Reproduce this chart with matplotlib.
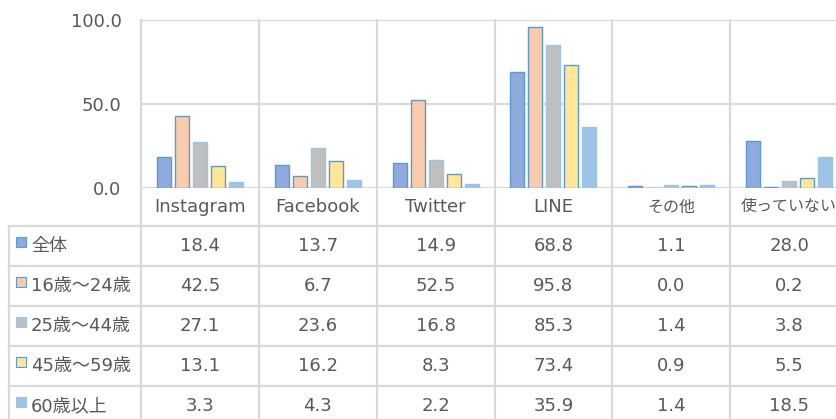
import matplotlib
matplotlib.use("Agg")
import matplotlib.pyplot as plt
from matplotlib.patches import Rectangle
from matplotlib.lines import Line2D
from matplotlib.transforms import blended_transform_factory

plt.rcParams['font.family'] = ['DejaVu Sans', 'Noto Sans CJK JP']

categories = ['Instagram', 'Facebook', 'Twitter', 'LINE', 'その他', '使っていない']
groups = ['全体', '16歳～24歳', '25歳～44歳', '45歳～59歳', '60歳以上']
all_ages = [18.4, 13.7, 14.9, 68.8, 1.1, 28.0]
age_16_24 = [42.5, 6.7, 52.5, 95.8, 0.0, 0.2]
age_25_44 = [27.1, 23.6, 16.8, 85.3, 1.4, 3.8]
age_45_59 = [13.1, 16.2, 8.3, 73.4, 0.9, 5.5]
age_60_up = [3.3, 4.3, 2.2, 35.9, 1.4, 18.5]
series = [all_ages, age_16_24, age_25_44, age_45_59, age_60_up]
yticks = [0, 50, 100]

fills = ['#8FAADC', '#F8CBAD', '#BFBFBF', '#FFE699', '#9DC3E6']
edges = ['#5B9BD5', '#5B9BD5', '#9DC3E6', '#5B9BD5', '#9DC3E6']
grid_c = '#D9D9D9'
text_c = '#595959'

W, H = 837, 419
fig = plt.figure(figsize=(W / 100, H / 100), dpi=100)

# overlay in pixel coordinates for the data table
ov = fig.add_axes([0, 0, 1, 1])
ov.set_xlim(0, W)
ov.set_ylim(H, 0)
ov.axis('off')

# chart area (last category runs past the right edge, as in the reference)
left, right, top, bottom = 141, 848, 20, 187.7
ax = fig.add_axes([left / W, 1 - bottom / H, (right - left) / W, (bottom - top) / H])
ax.set_xlim(-0.5, len(categories) - 0.5)
ax.set_ylim(0, 100)
for s in ax.spines.values():
    s.set_visible(False)
ax.set_xticks([])
ax.set_yticks(yticks)
ax.set_yticklabels([f'{v:.1f}' for v in yticks], fontsize=13, color=text_c)
ax.tick_params(axis='y', length=0, pad=14)
ax.yaxis.grid(True, color=grid_c, linewidth=1.6)
ax.set_axisbelow(True)
ax.patch.set_alpha(0)

step = 18 / 117.8
bw = 14 / 117.8
for k, vals in enumerate(series):
    xs = [i + (k - 2) * step for i in range(len(categories))]
    ax.bar(xs, vals, width=bw, color=fills[k], edgecolor=edges[k], linewidth=1.0, zorder=3)

bt = blended_transform_factory(ax.transData, ov.transData)

# vertical category boundaries running through the table
for i in range(len(categories) + 1):
    ov.add_line(Line2D([i - 0.5, i - 0.5], [top, H], transform=bt, color=grid_c,
                       linewidth=1.6, clip_on=False))

# table rows
row_edges = [226, 266, 306, 346, 386, 426]
for y in row_edges[:-1]:
    ov.plot([9, W], [y, y], color=grid_c, linewidth=1.6)
ov.plot([9, 9], [226, H], color=grid_c, linewidth=1.6)

# header (category names); kana labels are narrower in the original font
for i, c in enumerate(categories):
    fs = 13 if c.isascii() else 11.5
    ov.text(i, (bottom + 226) / 2, c, transform=bt, ha='center', va='center',
            fontsize=fs, color=text_c)

for k, (g, vals) in enumerate(zip(groups, series)):
    y0, y1 = row_edges[k], row_edges[k + 1]
    yc = (y0 + y1) / 2
    ov.add_patch(Rectangle((16.5, yc - 9), 10, 10, facecolor=fills[k],
                           edgecolor=edges[k], linewidth=0.8))
    ov.text(31, yc, g, ha='left', va='center', fontsize=13, color=text_c)
    for i, v in enumerate(vals):
        ov.text(i, yc, f'{v:.1f}', transform=bt, ha='center', va='center',
                fontsize=13, color=text_c)

fig.savefig('out.png', dpi=100)
